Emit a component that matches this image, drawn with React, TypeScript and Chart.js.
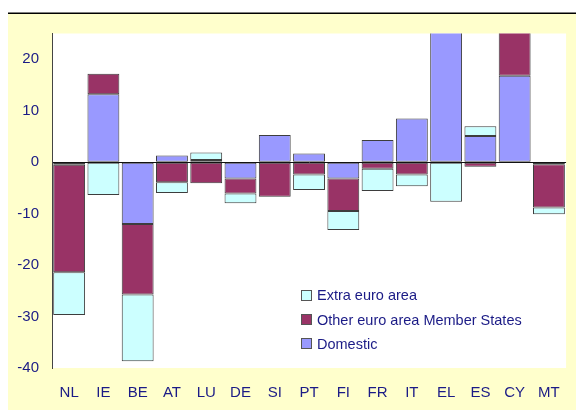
import React, { useEffect, useRef } from "react";
import { Chart, registerables } from "chart.js";

Chart.register(...registerables);

const categories = ["NL", "IE", "BE", "AT", "LU", "DE", "SI", "PT", "FI", "FR", "IT", "EL", "ES", "CY", "MT"];
const domestic = [-0.5, 13.2, -12.0, 1.3, 0.4, -3.2, 5.3, 1.7, -3.2, 4.3, 8.5, 32, 5.1, 16.8, -0.4];
const otherEuro = [-20.9, 4.0, -13.7, -3.9, -4.1, -2.9, -6.7, -2.4, -6.3, -1.3, -2.4, null, -0.9, 12, -8.4];
const extraEuro = [-8.3, -6.4, -13.0, -2.1, 1.5, -1.9, null, -3.0, -3.7, -4.3, -2.3, -7.7, 1.9, null, -1.3];
const yTicks = [-40, -30, -20, -10, 0, 10, 20];
const legendItems = [
  { label: "Extra euro area", color: "#CCFFFF" },
  { label: "Other euro area Member States", color: "#993366" },
  { label: "Domestic", color: "#9999FF" },
];

const FONT = "'Liberation Sans', Arial, sans-serif";
const TEXT = "#1B1B86";

const bgPlugin = {
  id: "bgPlugin",
  beforeDraw(chart: any) {
    const { ctx, chartArea, width, height } = chart;
    ctx.save();
    ctx.fillStyle = "#FFFFFF";
    ctx.fillRect(0, 0, width, height);
    ctx.fillStyle = "#FFFFCC";
    ctx.fillRect(8, 14, width - 8, height - 14);
    ctx.fillStyle = "#000000";
    ctx.fillRect(8, 12.5, width - 8, 1.5);
    ctx.fillStyle = "#FFFFFF";
    ctx.fillRect(chartArea.left, chartArea.top, chartArea.right - chartArea.left, chartArea.bottom - chartArea.top);
    ctx.restore();
  },
};

export default function App() {
  const ref = useRef<HTMLCanvasElement | null>(null);
  useEffect(() => {
    if (!ref.current) return;
    const common = {
      borderColor: "rgba(40,40,40,0.9)",
      borderWidth: 1,
      borderSkipped: false,
      barPercentage: 0.93,
      categoryPercentage: 1,
      stack: "s",
    };
    const chart = new Chart(ref.current, {
      type: "bar",
      data: {
        labels: categories,
        datasets: [
          { label: "Domestic", data: domestic, backgroundColor: "#9999FF", ...common },
          { label: "Other euro area Member States", data: otherEuro, backgroundColor: "#993366", ...common },
          { label: "Extra euro area", data: extraEuro, backgroundColor: "#CCFFFF", ...common },
        ],
      } as any,
      options: {
        animation: false,
        responsive: false,
        maintainAspectRatio: false,
        layout: { padding: { top: 33.5, right: 7, left: 0, bottom: 0 } },
        plugins: { legend: { display: false }, tooltip: { enabled: false } },
        scales: {
          x: {
            stacked: true,
            grid: { display: false, drawTicks: false },
            border: { display: false },
            ticks: { color: TEXT, font: { family: FONT, size: 15 }, padding: 16, maxRotation: 0, autoSkip: false },
            afterFit: (s: any) => {
              s.height = 42;
            },
          },
          y: {
            stacked: true,
            min: -40,
            max: 25,
            z: 1,
            afterBuildTicks: (s: any) => {
              s.ticks = yTicks.map((v) => ({ value: v }));
            },
            grid: {
              drawTicks: false,
              color: (c: any) => (c.tick && c.tick.value === 0 ? "#111111" : "rgba(0,0,0,0)"),
              lineWidth: 1,
            },
            border: { display: true, color: "#444444", width: 1 },
            ticks: { color: TEXT, font: { family: FONT, size: 15 }, padding: 13 },
            afterFit: (s: any) => {
              s.width = 52;
            },
          },
        },
      },
      plugins: [bgPlugin],
    } as any);
    return () => chart.destroy();
  }, []);

  return (
    <div style={{ position: "fixed", left: 0, top: 0, width: 576, height: 410, overflow: "hidden" }}>
      <canvas ref={ref} width={576} height={410} style={{ display: "block", width: 576, height: 410 }} />
      <div style={{ position: "absolute", left: 301, top: 283, fontFamily: FONT, fontSize: 14.5, color: TEXT }}>
        {legendItems.map((it) => (
          <div key={it.label} style={{ display: "flex", alignItems: "center", height: 24.4, whiteSpace: "nowrap" }}>
            <span
              style={{
                display: "inline-block",
                width: 9,
                height: 9,
                background: it.color,
                border: "1px solid #555555",
                marginRight: 5,
              }}
            />
            <span>{it.label}</span>
          </div>
        ))}
      </div>
    </div>
  );
}
